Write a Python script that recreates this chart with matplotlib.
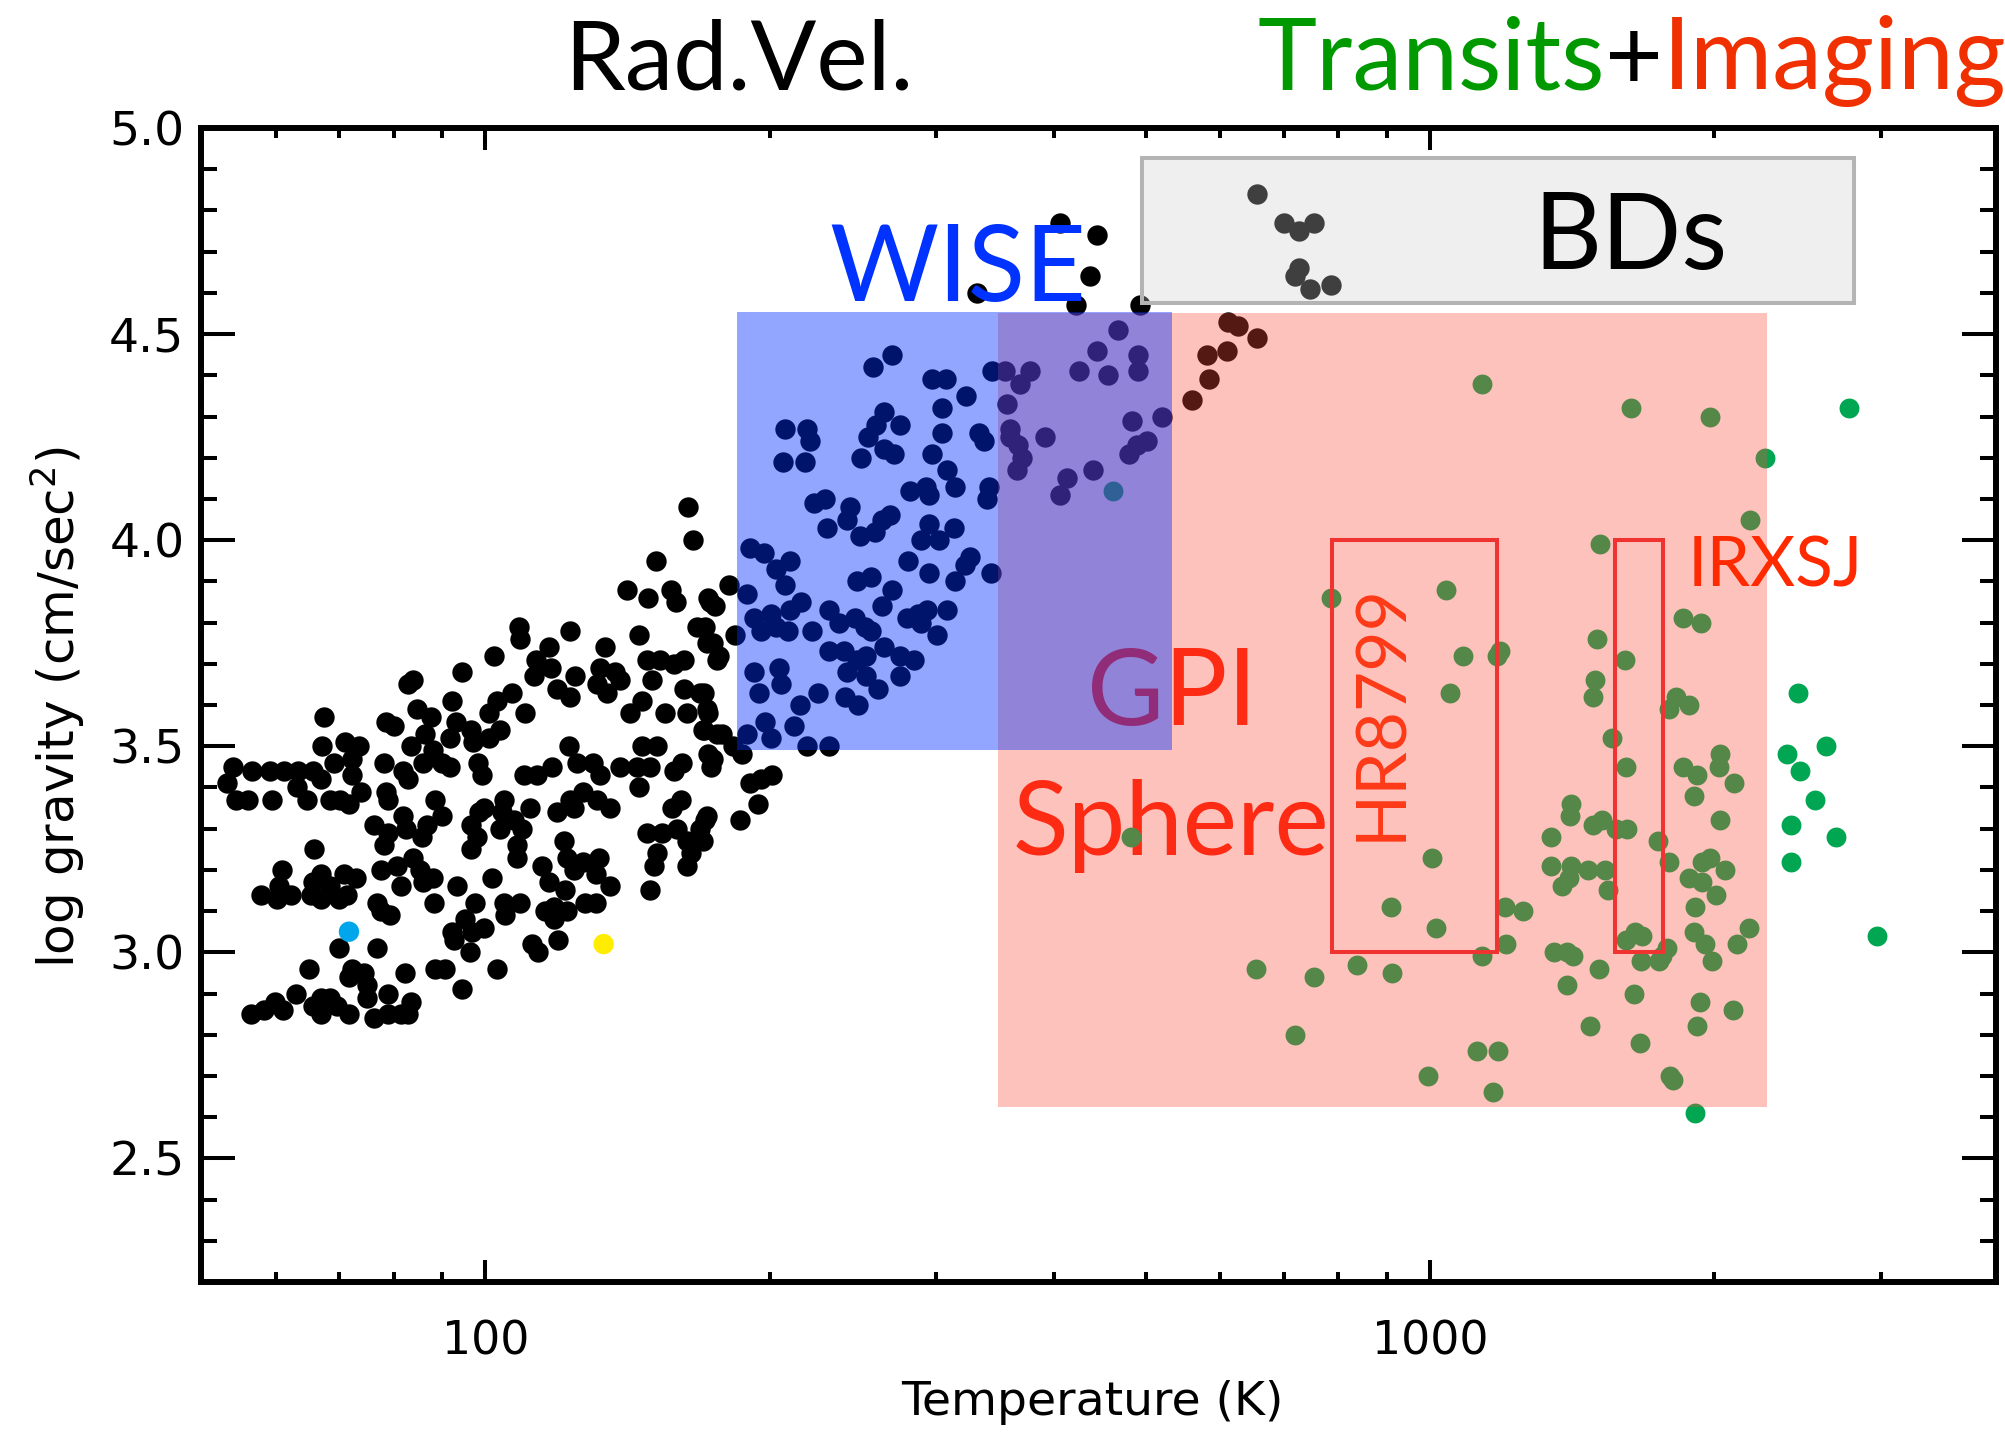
import matplotlib
matplotlib.use("Agg")
import matplotlib.pyplot as plt
from matplotlib.patches import Rectangle
from matplotlib.ticker import LogLocator, MultipleLocator, NullFormatter, FuncFormatter

plt.rcParams['font.family'] = ['DejaVu Sans']

# Radial-velocity planets: equilibrium temperature (K) and log g
rv_temp = [
    54.1, 56.6, 59.2, 61.2, 53.3, 54.5, 56.1, 59.5, 63.4, 65.7, 63.1, 64.8, 66.9, 69.2, 68.5, 70.1,
    71.7, 72.2, 73.8, 67.2, 71.0, 73.5, 72.2, 67.5, 78.1, 78.4, 78.8, 82.9, 83.9, 78.4, 80.0, 84.6,
    87.5, 86.4, 83.5, 81.8, 82.8, 85.8, 88.0, 89.9, 91.8, 92.2, 94.5, 93.0, 91.8, 96.6, 97.0, 98.1,
    99.2, 100.8, 102.0, 100.8, 102.9, 103.7, 106.7, 110.2, 108.5, 108.9, 113.0, 112.5, 116.7, 117.2,
    123.0, 119.0, 123.0, 124.5, 133.9, 132.3, 137.2, 131.3, 134.5, 138.9, 145.3, 148.1, 153.1, 158.3,
    162.3, 150.0, 146.4, 142.4, 155.0, 162.3, 168.9, 163.6, 171.5, 169.9, 167.7, 171.5, 175.8, 159.0,
    172.9, 122.5, 109.8, 113.4, 117.6, 125.0, 130.1, 132.3, 127.0, 123.0, 119.0, 124.0, 131.3, 135.6,
    138.9, 144.7, 145.3, 146.4, 151.8, 149.5, 158.3, 161.6, 157.7, 160.9, 172.0, 173.3, 175.8, 88.5,
    89.9, 86.8, 85.7, 81.8, 82.4, 76.2, 78.8, 78.1, 96.6, 98.5, 99.6, 98.0, 96.6, 104.6, 104.1, 103.7,
    107.1, 109.3, 111.6, 108.0, 108.0, 121.0, 122.0, 127.0, 131.8, 130.8, 124.0, 114.8, 116.7, 121.5,
    135.6, 118.1, 115.7, 118.1, 122.0, 127.6, 130.8, 149.5, 148.1, 153.8, 151.8, 150.7, 159.5, 163.6,
    164.9, 163.6, 167.7, 171.5, 168.9, 80.6, 83.9, 85.3, 85.8, 88.0, 81.3, 77.5, 93.3, 88.2, 97.6,
    101.6, 104.6, 108.9, 105.0, 76.8, 77.5, 79.3, 95.2, 99.6, 96.8, 92.2, 92.7, 96.2, 112.1, 113.8,
    119.5, 69.9, 76.8, 60.9, 60.4, 57.8, 60.1, 62.2, 65.9, 65.7, 66.9, 65.3, 66.9, 68.5, 69.9, 70.8,
    72.9, 71.3, 65.1, 72.2, 74.3, 71.7, 82.1, 88.5, 90.7, 102.9, 94.4, 75.0, 78.8, 75.0, 56.4, 58.3,
    59.9, 61.0, 63.0, 65.7, 66.9, 68.5, 66.9, 69.6, 71.7, 76.2, 78.8, 81.3, 83.5, 82.8,
    181.0, 172.0, 174.9, 170.6, 174.0, 176.8, 183.6, 170.2, 172.0, 170.2, 178.1, 183.0, 174.0, 186.8,
    190.8, 195.9, 201.0, 194.3, 186.2, 170.6, 169.9, 219.0, 231.0,
    190.8, 197.1, 202.9, 210.3, 189.2, 207.4, 216.0, 210.3, 192.4, 195.9, 200.4, 203.3, 209.1, 221.9,
    230.9, 236.5, 246.2, 252.1, 256.1, 230.9, 239.5, 247.2, 253.1, 241.4, 253.1, 240.4, 248.1, 260.1,
    264.2, 274.9, 284.6, 274.9, 225.0, 192.4, 194.6, 204.8, 205.5, 215.4, 212.0, 197.9, 189.2, 200.4,
    263.1, 269.4, 247.2, 256.1, 279.4, 286.8, 293.6, 289.0, 300.8, 308.1, 294.8, 314.5, 326.0, 322.0,
    343.0, 280.4, 289.0, 302.5, 313.4, 294.8, 268.4, 263.1, 249.0, 258.2, 243.4, 241.4, 229.8, 222.6,
    228.9, 281.6, 292.4, 294.8, 314.5, 308.1, 341.0, 339.7, 297.1, 304.2, 304.2, 323.0, 333.0, 337.0,
    250.0, 254.0, 259.0, 264.0, 274.9, 264.2, 270.5, 207.4, 219.0, 220.7, 206.6, 218.0, 297.0, 307.0,
    257.0, 269.5,
    357.0, 359.4, 359.4, 366.0, 370.0, 365.0, 391.0, 413.0, 406.0, 440.0, 484.0, 520.0, 502.0, 490.0,
    480.0, 368.0, 468.0, 444.0, 491.0, 491.0, 425.0, 456.0, 355.0, 377.0, 344.0,
    612.0, 626.0, 656.0, 610.0, 581.0, 583.0, 560.0,
    406.0, 444.0, 437.0, 422.0, 493.0, 331.5,
    656.0, 700.0, 726.0, 753.0, 726.0, 720.0, 747.0, 785.0,
    164.0, 166.0, 151.7, 157.4, 141.3, 148.7,
]
rv_logg = [
    3.45, 3.44, 3.44, 3.44, 3.41, 3.37, 3.37, 3.37, 3.44, 3.44, 3.40, 3.37, 3.42, 3.46, 3.37, 3.37,
    3.36, 3.43, 3.39, 3.50, 3.51, 3.50, 3.47, 3.57, 3.46, 3.39, 3.37, 3.65, 3.66, 3.56, 3.55, 3.59,
    3.57, 3.53, 3.50, 3.44, 3.42, 3.46, 3.49, 3.46, 3.45, 3.61, 3.68, 3.56, 3.52, 3.54, 3.51, 3.46,
    3.43, 3.52, 3.72, 3.58, 3.61, 3.54, 3.63, 3.58, 3.79, 3.76, 3.71, 3.67, 3.74, 3.69,
    3.78, 3.64, 3.62, 3.67, 3.74, 3.69, 3.68, 3.65, 3.63, 3.66, 3.77, 3.71, 3.71, 3.70,
    3.71, 3.66, 3.61, 3.58, 3.58, 3.64, 3.63, 3.58, 3.59, 3.54, 3.79, 3.75, 3.71, 3.85,
    3.85, 3.50, 3.43, 3.43, 3.45, 3.46, 3.46, 3.43, 3.39, 3.37, 3.34, 3.35, 3.37, 3.35,
    3.45, 3.45, 3.40, 3.50, 3.50, 3.45, 3.44, 3.46, 3.35, 3.37, 3.48, 3.45, 3.53, 3.37,
    3.33, 3.31, 3.28, 3.33, 3.30, 3.31, 3.29, 3.26, 3.31, 3.34, 3.35, 3.28, 3.25, 3.37, 3.34, 3.30,
    3.32, 3.30, 3.35, 3.26, 3.23, 3.27, 3.23, 3.22, 3.23, 3.19, 3.20, 3.21, 3.17, 3.15,
    3.16, 3.11, 3.10, 3.08, 3.10, 3.12, 3.12, 3.15, 3.29, 3.29, 3.24, 3.21, 3.30, 3.27,
    3.24, 3.21, 3.27, 3.33, 3.30, 3.21, 3.23, 3.20, 3.17, 3.18, 3.16, 3.20, 3.16, 3.12, 3.12,
    3.18, 3.12, 3.12, 3.09, 3.12, 3.10, 3.09, 3.08, 3.06, 3.05, 3.05, 3.03, 3.00, 3.02, 3.00,
    3.03, 3.01, 3.01, 3.20, 3.16, 3.14, 3.13, 3.14, 3.25, 3.17, 3.19, 3.14, 3.13, 3.16, 3.13, 3.19,
    3.18, 3.14, 2.96, 2.96, 2.95, 2.94, 2.95, 2.96, 2.96, 2.96, 2.91, 2.92, 2.90, 2.89, 2.85, 2.86,
    2.88, 2.86, 2.90, 2.87, 2.89, 2.89, 2.85, 2.87, 2.85, 2.84, 2.85, 2.85, 2.88, 2.85,
    3.89, 3.86, 3.84, 3.79, 3.75, 3.72, 3.77, 3.63, 3.58, 3.54, 3.53, 3.50, 3.47, 3.48,
    3.41, 3.42, 3.43, 3.36, 3.32, 3.32, 3.27, 3.50, 3.50,
    3.98, 3.97, 3.93, 3.95, 3.87, 3.89, 3.85, 3.83, 3.81, 3.78, 3.82, 3.79, 3.78, 3.78,
    3.83, 3.80, 3.81, 3.79, 3.78, 3.73, 3.73, 3.71, 3.72, 3.68, 3.67, 3.62, 3.60, 3.64,
    3.74, 3.72, 3.71, 3.67, 3.63, 3.68, 3.63, 3.69, 3.65, 3.60, 3.55, 3.56, 3.53, 3.52,
    3.84, 3.88, 3.90, 3.91, 3.81, 3.82, 3.83, 3.80, 3.77, 3.83, 3.92, 3.90, 3.96, 3.94,
    3.92, 3.95, 4.00, 4.00, 4.03, 4.04, 4.06, 4.05, 4.01, 4.02, 4.08, 4.05, 4.03, 4.09,
    4.10, 4.12, 4.13, 4.11, 4.13, 4.17, 4.13, 4.10, 4.21, 4.26, 4.32, 4.35, 4.26, 4.24,
    4.20, 4.25, 4.28, 4.31, 4.28, 4.22, 4.21, 4.27, 4.27, 4.24, 4.19, 4.19, 4.39, 4.39,
    4.42, 4.45,
    4.33, 4.27, 4.25, 4.23, 4.20, 4.17, 4.25, 4.15, 4.11, 4.17, 4.29, 4.30, 4.24, 4.23,
    4.21, 4.38, 4.51, 4.46, 4.45, 4.41, 4.41, 4.40, 4.41, 4.41, 4.41,
    4.53, 4.52, 4.49, 4.46, 4.45, 4.39, 4.34,
    4.77, 4.74, 4.64, 4.57, 4.57, 4.60,
    4.84, 4.77, 4.75, 4.77, 4.66, 4.64, 4.61, 4.62,
    4.08, 4.00, 3.95, 3.88, 3.88, 3.86,
]

# Transiting planets
transit_temp = [
    1085, 1177, 1187, 1050, 1608, 1496, 1490, 1823, 1882, 1790, 1560, 1613, 1852, 1918, 2030, 2022,
    2100, 1902, 2030, 1412, 1406, 1345, 1490, 1523, 1573, 1616, 1742, 1790, 1345, 1412, 1469, 1534,
    1381, 1545, 1402, 1940, 1980, 2055, 1880, 1940, 2008, 1910, 1902, 1955, 2112, 2175, 1990, 1647,
    1679, 1612, 1784, 1763, 1672, 1750, 1510, 1352, 1396, 1418, 1396, 1645, 1932, 2095, 1918, 1476,
    1670, 1796, 1810, 1908, 1200, 1254, 1205, 1136, 1005, 910, 1016, 655, 753, 838, 911, 719,
    1122, 1182, 995, 1165, 483, 462, 785, 1039, 1136, 1633, 1978, 2180, 1515, 1502, 1855, 1938,
    2454, 2391, 2627, 2465, 2557, 2413, 2692, 2413, 2973, 2780, 2266,
]
transit_logg = [
    3.72, 3.72, 3.73, 3.63, 3.71, 3.66, 3.62, 3.62, 3.60, 3.59, 3.52, 3.45, 3.45, 3.43, 3.48, 3.45,
    3.41, 3.38, 3.32, 3.36, 3.33, 3.28, 3.31, 3.32, 3.30, 3.30, 3.27, 3.22, 3.21, 3.21, 3.20, 3.20,
    3.16, 3.15, 3.18, 3.22, 3.23, 3.20, 3.18, 3.17, 3.14, 3.11, 3.05, 3.02, 3.02, 3.06, 2.98, 3.05,
    3.04, 3.03, 3.01, 2.99, 2.98, 2.98, 2.96, 3.00, 3.00, 2.99, 2.92, 2.90, 2.88, 2.86, 2.82, 2.82,
    2.78, 2.70, 2.69, 2.61, 3.11, 3.10, 3.02, 2.99, 3.23, 3.11, 3.06, 2.96, 2.94, 2.97, 2.95, 2.80,
    2.76, 2.76, 2.70, 2.66, 3.28, 4.12, 3.86, 3.88, 4.38, 4.32, 4.30, 4.05, 3.99, 3.76, 3.81, 3.80,
    3.63, 3.48, 3.50, 3.44, 3.37, 3.31, 3.28, 3.22, 3.04, 4.32, 4.20,
]

# two individually coloured planets
highlight_temp = [71.7, 133.4]
highlight_logg = [3.05, 3.02]

# survey windows (temperature range, log g range)
wise_t, wise_g = (184.6, 533.0), (3.49, 4.553)
sphere_t, sphere_g = (348.7, 2275.0), (2.625, 4.55)
bd_t, bd_g = (495.3, 2810.0), (4.575, 4.928)
hr8799_t, hr8799_g = (787.0, 1178.0), (3.0, 4.0)
irxsj_t, irxsj_g = (1572.0, 1766.0), (3.0, 4.0)

fig = plt.figure(figsize=(20.05, 14.35), dpi=100)
ax = fig.add_axes([0.1003, 0.1066, 0.8952, 0.8042])
ax.set_xscale('log')
ax.set_xlim(50, 3975)
ax.set_ylim(2.2, 5.0)

ax.scatter(rv_temp, rv_logg, s=215, c='black', linewidths=0, zorder=2)
ax.scatter(transit_temp, transit_logg, s=205, c='#00a651', linewidths=0, zorder=2)
ax.scatter(highlight_temp, highlight_logg, s=215, c=['#00a6eb', '#ffec00'], linewidths=0, zorder=2)


def box(t, g, **kw):
    return Rectangle((t[0], g[0]), t[1] - t[0], g[1] - g[0], **kw)


ax.add_patch(box(bd_t, bd_g, facecolor=(206/255, 206/255, 206/255, 0.31),
                 edgecolor='#b4b4b4', linewidth=2.9, zorder=3))
ax.add_patch(box(sphere_t, sphere_g, facecolor=(250/255, 76/255, 59/255, 0.34),
                 edgecolor='none', zorder=4))
ax.add_patch(box(wise_t, wise_g, facecolor=(0, 47/255, 1, 0.427),
                 edgecolor='none', zorder=5))
for t, g in [(hr8799_t, hr8799_g), (irxsj_t, irxsj_g)]:
    ax.add_patch(box(t, g, facecolor='none', edgecolor='#ef3330', linewidth=2.9, zorder=6))

big = dict(family=['Lato', 'DejaVu Sans'], fontsize=76)
mid = dict(family=['Lato', 'DejaVu Sans'], fontsize=50)
ax.text(231.5, 4.581, 'WISE', color='#0033ff', ha='left', va='baseline', zorder=6, **big)
ax.text(1288, 4.657, 'BDs', color='black', ha='left', va='baseline', zorder=6, **big)
ax.text(433, 3.552, 'GPI', color='#ff1a00', ha='left', va='baseline', zorder=1.5, **big)
ax.text(362, 3.237, 'Sphere', color='#ff1a00', ha='left', va='baseline', zorder=1.5,
        family=['Lato', 'DejaVu Sans'], fontsize=74)
ax.text(889, 3.582, 'HR8799', color='#ff3a17', ha='center', va='center', rotation=90,
        zorder=6, **mid)
ax.text(1874, 3.888, 'IRXSJ', color='#ff2a00', ha='left', va='baseline', zorder=6, **mid)

# header line above the frame
fig.text(0.2812, 0.9375, 'Rad.Vel.', color='black', ha='left', va='baseline',
         family=['Lato', 'DejaVu Sans'], fontsize=70)
head = dict(family=['Lato', 'DejaVu Sans'], fontsize=72)
t2 = fig.text(0.627, 0.9375, 'Transits', color='#009a00', ha='left', va='baseline', **head)
t3 = ax.annotate('+', xy=(1, 0), xycoords=t2, color='black', ha='left', va='bottom', **head)
ax.annotate('Imaging', xy=(1, 0), xycoords=t3, color='#f03000', ha='left', va='bottom', **head)

ax.xaxis.set_major_locator(LogLocator(base=10))
ax.xaxis.set_minor_locator(LogLocator(base=10, subs=range(2, 10)))
ax.xaxis.set_minor_formatter(NullFormatter())
ax.xaxis.set_major_formatter(FuncFormatter(lambda v, p: '%d' % v))
ax.yaxis.set_major_locator(MultipleLocator(0.5))
ax.yaxis.set_minor_locator(MultipleLocator(0.1))
ax.yaxis.set_major_formatter(FuncFormatter(lambda v, p: '%.1f' % v))

ax.tick_params(axis='x', which='major', direction='in', length=15.8, width=2.9,
               top=True, pad=27, labelsize=33)
ax.tick_params(axis='x', which='minor', direction='in', length=7.2, width=2.9, top=True)
ax.tick_params(axis='y', which='major', direction='in', length=24.5, width=2.9,
               right=True, pad=12, labelsize=34)
ax.tick_params(axis='y', which='minor', direction='in', length=11.5, width=2.9, right=True)
for sp in ax.spines.values():
    sp.set_linewidth(4.3)

fig.text(0.5446, 0.0223, 'Temperature (K)', fontsize=34, ha='center', va='center')
fig.text(0.0287, 0.507, r'log gravity (cm/sec$^2$)', fontsize=36, rotation=90,
         ha='center', va='center')

fig.savefig('out.png', dpi=100)
